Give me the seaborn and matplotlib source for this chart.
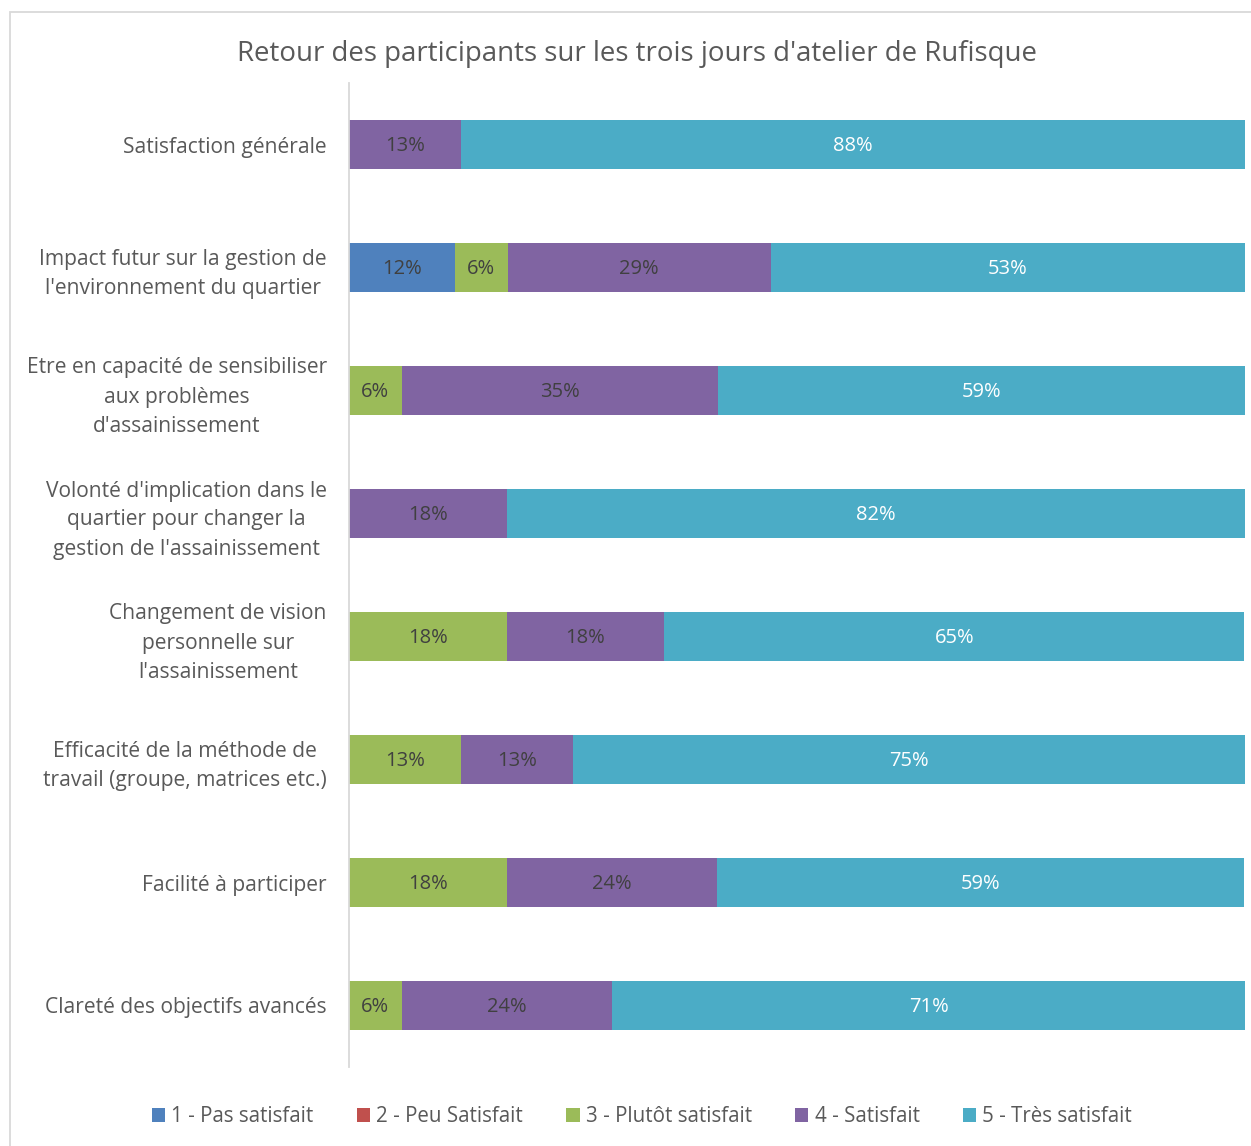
import numpy as np
import pandas as pd
import matplotlib.pyplot as plt
import seaborn as sns
from matplotlib.patches import Rectangle, Patch

# Data (percent of respondents)
questions = [
    "Satisfaction générale",
    "Impact futur sur la gestion de\nl'environnement du quartier",
    "Etre en capacité de sensibiliser\naux problèmes\nd'assainissement",
    "Volonté d'implication dans le\nquartier pour changer la\ngestion de l'assainissement",
    "Changement de vision\npersonnelle sur\nl'assainissement",
    "Efficacité de la méthode de\ntravail (groupe, matrices etc.)",
    "Facilité à participer",
    "Clareté des objectifs avancés",
]
levels = ["1 - Pas satisfait", "2 - Peu Satisfait", "3 - Plutôt satisfait",
          "4 - Satisfait", "5 - Très satisfait"]
pas_satisfait = [0, 11.8, 0, 0, 0, 0, 0, 0]
peu_satisfait = [0, 0, 0, 0, 0, 0, 0, 0]
plutot_satisfait = [0, 5.9, 5.9, 0, 17.6, 12.5, 17.6, 5.9]
satisfait = [12.5, 29.4, 35.3, 17.6, 17.6, 12.5, 23.5, 23.5]
tres_satisfait = [87.5, 52.9, 58.8, 82.4, 64.7, 75.0, 58.8, 70.6]

colors = ["#4F81BD", "#C0504D", "#9BBB59", "#8064A2", "#4BACC6"]
label_colors = ["#404040", "#404040", "#404040", "#404040", "white"]

df = pd.DataFrame({"question": questions,
                   levels[0]: pas_satisfait, levels[1]: peu_satisfait,
                   levels[2]: plutot_satisfait, levels[3]: satisfait,
                   levels[4]: tres_satisfait})
cum = df[levels].cumsum(axis=1)

sns.set_style("white")
plt.rcParams["font.family"] = ["Open Sans", "DejaVu Sans"]

fig = plt.figure(figsize=(12.51, 11.46), dpi=100)
ax = fig.add_axes([349 / 1251, 1 - 1067 / 1146, (1245 - 349) / 1251, (1067 - 83) / 1146])

# stacked bars: draw cumulative totals from the outermost layer inward
for i in range(len(levels) - 1, -1, -1):
    sns.barplot(x=cum[levels[i]], y=df["question"], orient="h", color=colors[i],
                width=0.4, saturation=1, ax=ax, linewidth=0)

for i, lev in enumerate(levels):
    for j in range(len(df)):
        v = df[lev].iloc[j]
        if v <= 0:
            continue
        mid = cum[lev].iloc[j] - v / 2
        ax.text(mid, j + 0.01, f"{int(v + 0.5)}%", ha="center", va="center",
                fontsize=14.5, color=label_colors[i])

ax.set_xlim(0, 100)
ax.set_ylim(len(df) - 0.5, -0.5)
ax.set_xlabel("")
ax.set_ylabel("")
ax.set_xticks([])
ax.tick_params(axis="y", length=0, pad=16, labelsize=15.1, labelcolor="#595959")
for lab in ax.get_yticklabels():
    lab.set_multialignment("center")
    lab.set_linespacing(1.5)
for s in ["top", "right", "bottom"]:
    ax.spines[s].set_visible(False)
ax.spines["left"].set_color("#D9D9D9")
ax.spines["left"].set_linewidth(1.3)

fig.text(637 / 1251, 1 - 54 / 1146, "Retour des participants sur les trois jours d'atelier de Rufisque",
         ha="center", va="center", fontsize=19.9, color="#595959")

# outer chart border
fig.patches.append(Rectangle((10 / 1251, -0.01), 1.1, 1 - 12 / 1146 + 0.01,
                             transform=fig.transFigure, fill=False,
                             edgecolor="#D9D9D9", linewidth=1.3))

handles = [Patch(facecolor=c, edgecolor="none") for c in colors]
fig.legend(handles, levels, loc="center", bbox_to_anchor=(642 / 1251, 1 - 1117 / 1146),
           ncol=5, frameon=False, fontsize=14.8, labelcolor="#595959",
           handlelength=0.65, handleheight=0.65, handletextpad=0.3, columnspacing=2.1)

fig.savefig("out.png", dpi=100)
